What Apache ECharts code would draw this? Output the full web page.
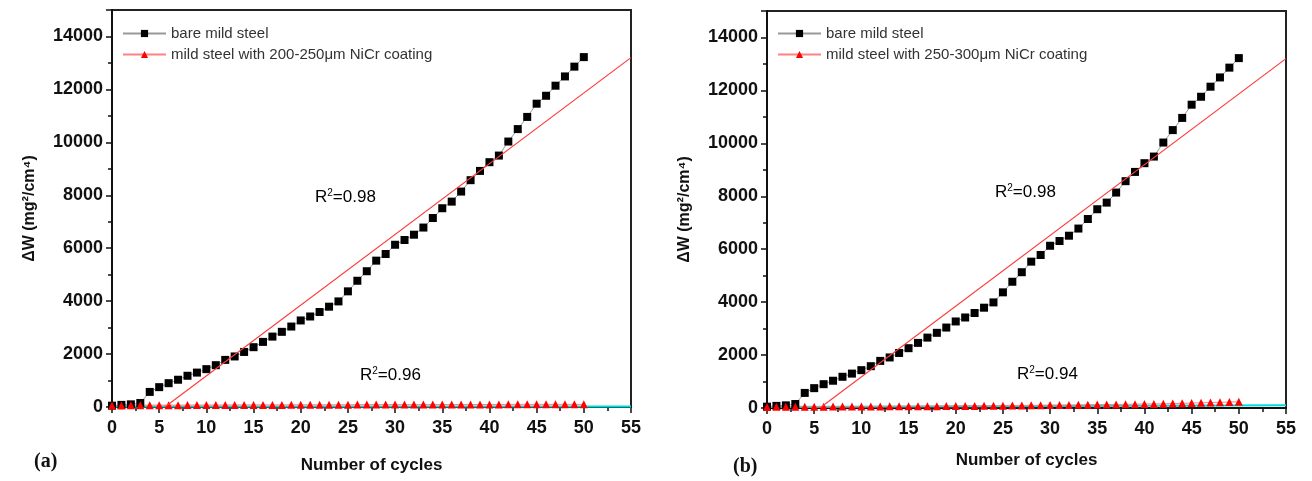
<!DOCTYPE html>
<html lang="en">
<head>
<meta charset="UTF-8">
<title>Cyclic oxidation - NiCr coatings</title>
<script src="https://cdn.jsdelivr.net/npm/echarts@6/dist/echarts.min.js"></script>
<style>
    html, body { margin: 0; padding: 0; background: #fff; }
    #main { width: 1312px; height: 481px; }
</style>
</head>
<body>
<div id="main"></div>
<script>
// number of cycles
var cycles = [0, 1, 2, 3, 4, 5, 6, 7, 8, 9, 10, 11, 12, 13, 14, 15, 16, 17, 18, 19, 20,
    21, 22, 23, 24, 25, 26, 27, 28, 29, 30, 31, 32, 33, 34, 35, 36, 37, 38, 39, 40,
    41, 42, 43, 44, 45, 46, 47, 48, 49, 50];

// bare mild steel (same in both panels)
var bareSteel = [50, 80, 100, 150, 570, 750, 900, 1030, 1180, 1300, 1430,
    1580, 1780, 1910, 2080, 2260, 2460, 2660, 2840, 3040, 3270,
    3420, 3590, 3790, 3990, 4370, 4770, 5130, 5530, 5780, 6130,
    6310, 6510, 6780, 7140, 7510, 7760, 8140, 8570, 8920, 9250,
    9500, 10030, 10500, 10960, 11460, 11760, 12140, 12490, 12860, 13220];

// (a) 200-250um NiCr coating
var coatA = [60, 60, 65, 65, 70, 70, 70, 70, 75, 75, 75,
    75, 75, 80, 80, 80, 80, 80, 80, 85, 85,
    85, 85, 85, 85, 85, 90, 90, 90, 90, 90,
    90, 90, 90, 95, 95, 95, 95, 95, 95, 95,
    95, 100, 100, 100, 100, 100, 100, 100, 100, 100];

// (b) 250-300um NiCr coating
var coatB = [40, 45, 45, 50, 50, 50, 50, 52, 54, 55, 56,
    58, 60, 62, 64, 65, 66, 68, 70, 72, 75,
    78, 80, 82, 85, 88, 90, 95, 100, 105, 113,
    115, 118, 120, 125, 128, 130, 135, 140, 145, 150,
    155, 160, 168, 175, 188, 195, 205, 215, 225, 233];

// linear fits
var fitBareX = [5.6, 55];
var fitBareY = [0, 13200];
var fitCoatAX = [0, 55];
var fitCoatAY = [15, 15];
var fitCoatBX = [0, 55];
var fitCoatBY = [40, 105];

// labels
var legendA = ['bare mild steel', 'mild steel with 200-250\u03bcm NiCr coating'];
var legendB = ['bare mild steel', 'mild steel with 250-300\u03bcm NiCr coating'];
var r2A = ['0.98', '0.96'];
var r2B = ['0.98', '0.94'];

function pairs(xs, ys) {
    var out = [];
    for (var i = 0; i < xs.length; i++) {
        out.push([xs[i], ys[i]]);
    }
    return out;
}

var FONT = 'Liberation Sans, Arial, sans-serif';

function xAxisOpt(gridIndex, nameGap) {
    return {
        type: 'value', gridIndex: gridIndex, min: 0, max: 55, interval: 5,
        name: 'Number of cycles', nameLocation: 'middle', nameGap: nameGap,
        nameTextStyle: { fontFamily: FONT, fontWeight: 'bold', fontSize: 17, color: '#111' },
        axisLine: { lineStyle: { color: '#111', width: 2 } },
        axisTick: { length: 6, lineStyle: { color: '#111', width: 1.5 } },
        minorTick: { show: true, splitNumber: 2, length: 4, lineStyle: { color: '#111', width: 1.5 } },
        axisLabel: { fontFamily: FONT, fontWeight: 'bold', fontSize: 18, color: '#111', margin: 12 },
        splitLine: { show: false }
    };
}

function yAxisOpt(gridIndex) {
    return {
        type: 'value', gridIndex: gridIndex, min: 0, max: 15000, interval: 2000,
        name: '\u0394W (mg\u00b2/cm\u2074)', nameLocation: 'middle', nameGap: 74,
        nameTextStyle: { fontFamily: FONT, fontWeight: 'bold', fontSize: 16, color: '#111' },
        axisLine: { lineStyle: { color: '#111', width: 2 } },
        axisTick: { length: 6, lineStyle: { color: '#111', width: 1.5 } },
        minorTick: { show: true, splitNumber: 2, length: 4, lineStyle: { color: '#111', width: 1.5 } },
        axisLabel: {
            fontFamily: FONT, fontWeight: 'bold', fontSize: 18, color: '#111', margin: 9, showMaxLabel: false,
            formatter: function (v) { return String(v); }
        },
        splitLine: { show: false }
    };
}

function panelSeries(idx, names, coat, fitCoatX, fitCoatY) {
    return [
        {
            name: names[0], type: 'line', xAxisIndex: idx, yAxisIndex: idx,
            data: pairs(cycles, bareSteel), symbol: 'rect', symbolSize: 8,
            itemStyle: { color: '#000' }, lineStyle: { color: '#999', width: 1 }, z: 4
        },
        {
            name: names[1], type: 'line', xAxisIndex: idx, yAxisIndex: idx,
            data: pairs(cycles, coat), symbol: 'triangle', symbolSize: 8,
            itemStyle: { color: '#ff0000' }, lineStyle: { color: '#ff8080', width: 1 }, z: 4
        },
        {
            name: 'fit-bare', type: 'line', xAxisIndex: idx, yAxisIndex: idx,
            data: pairs(fitBareX, fitBareY), symbol: 'none',
            lineStyle: { color: '#ff3b3b', width: 1.2 }, z: 5
        },
        {
            name: 'fit-coat', type: 'line', xAxisIndex: idx, yAxisIndex: idx,
            data: pairs(fitCoatX, fitCoatY), symbol: 'none',
            lineStyle: { color: '#00dada', width: 2 }, z: 3
        }
    ];
}

function legendOpt(left, names) {
    return {
        data: names, orient: 'vertical', left: left, top: 21,
        itemWidth: 43, itemHeight: 9, itemGap: 6,
        textStyle: { fontFamily: FONT, fontSize: 15, color: '#333' }
    };
}

function r2Text(left, top, value) {
    return {
        type: 'text', left: left, top: top,
        style: {
            text: '{a|R}{s|2}{a|=' + value + '}',
            rich: {
                a: { fontFamily: FONT, fontSize: 17, color: '#333' },
                s: { fontFamily: FONT, fontSize: 10, color: '#333', padding: [0, 0, 9, 0] }
            }
        }
    };
}

var option = {
    animation: false,
    backgroundColor: '#fff',
    grid: [
        { left: 112, top: 10, width: 519, height: 397, show: true, borderColor: '#222', borderWidth: 2 },
        { left: 767, top: 11, width: 519, height: 397, show: true, borderColor: '#222', borderWidth: 2 }
    ],
    xAxis: [xAxisOpt(0, 50), xAxisOpt(1, 44)],
    yAxis: [yAxisOpt(0), yAxisOpt(1)],
    legend: [legendOpt(117, legendA), legendOpt(772, legendB)],
    series: panelSeries(0, legendA, coatA, fitCoatAX, fitCoatAY)
        .concat(panelSeries(1, legendB, coatB, fitCoatBX, fitCoatBY)),
    graphic: [
        r2Text(315, 188, r2A[0]),
        r2Text(360, 366, r2A[1]),
        r2Text(995, 183, r2B[0]),
        r2Text(1017, 365, r2B[1]),
        {
            type: 'text', left: 34, top: 452,
            style: { text: '(a)', fontFamily: 'Liberation Serif, Times New Roman, serif', fontWeight: 'bold', fontSize: 20, fill: '#111' }
        },
        {
            type: 'text', left: 733, top: 457,
            style: { text: '(b)', fontFamily: 'Liberation Serif, Times New Roman, serif', fontWeight: 'bold', fontSize: 20, fill: '#111' }
        }
    ]
};

var myChart = echarts.init(document.getElementById('main'));
myChart.setOption(option);
</script>
</body>
</html>
